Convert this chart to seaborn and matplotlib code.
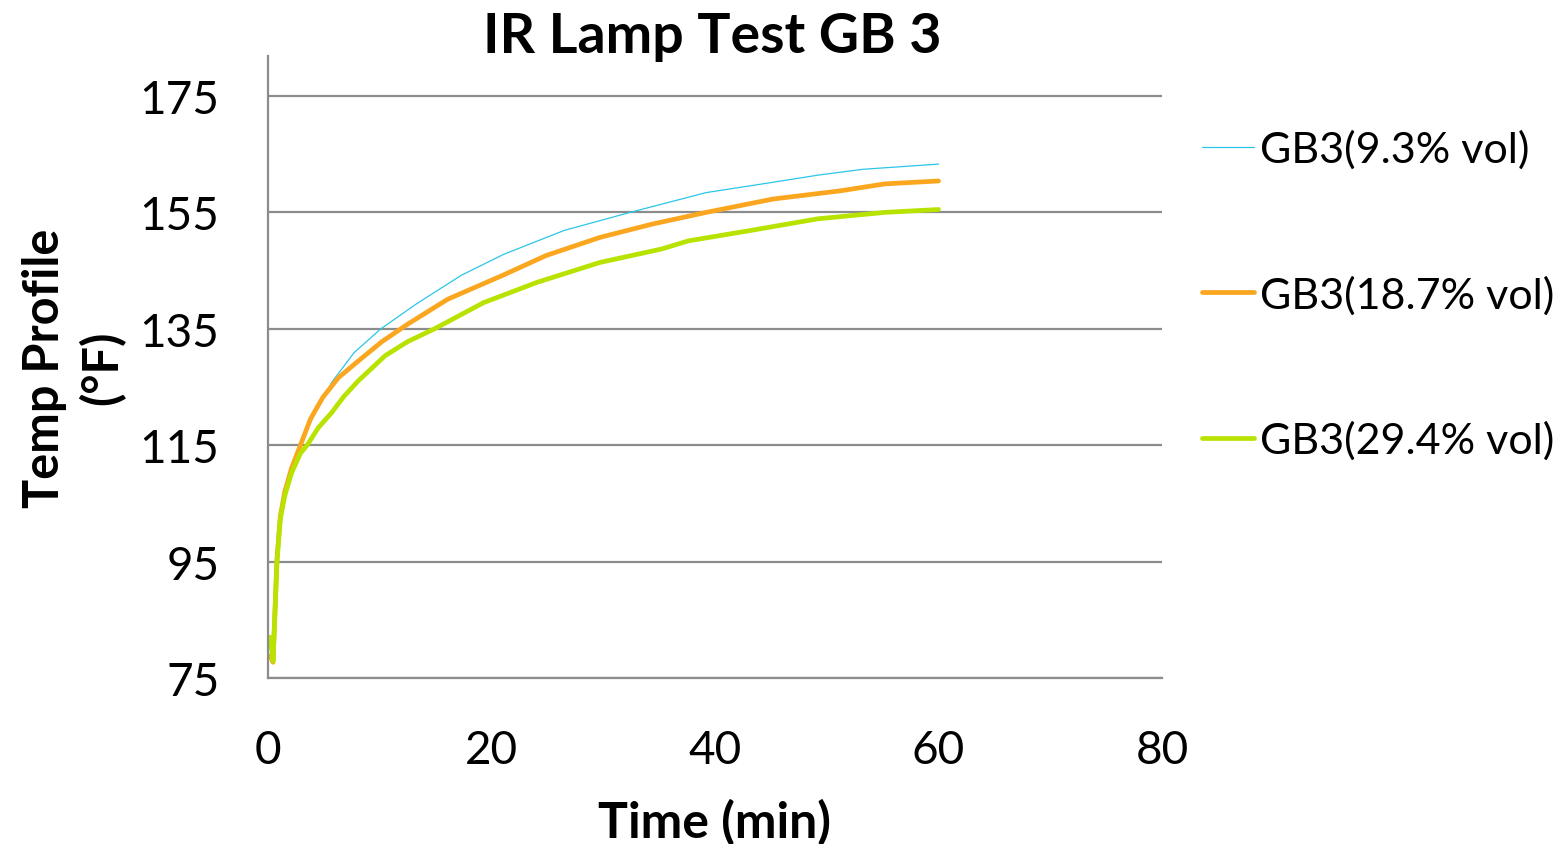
import numpy as np
import pandas as pd
import matplotlib
matplotlib.use("Agg")
import matplotlib.pyplot as plt
import seaborn as sns

# ---- data ----
time_a = [0.2, 0.45, 0.8, 1.1, 1.5, 2.1, 2.9, 4.1, 5.7, 7.7, 10.1, 13.3, 17.3, 21.1, 26.5, 32.4, 39.2, 44.6, 49.2, 53.2, 60.0]
temp_a = [80.0, 77.9, 95.5, 103.0, 107.2, 111.2, 115.2, 120.1, 125.8, 130.9, 135.0, 139.3, 144.2, 147.8, 151.9, 155.0, 158.4, 160.0, 161.4, 162.4, 163.3]

time_b = [0.2, 0.45, 0.8, 1.1, 1.5, 2.1, 2.9, 3.8, 4.9, 6.3, 8.1, 10.2, 12.5, 16.1, 20.9, 24.9, 29.7, 34.4, 39.2, 45.2, 51.2, 55.2, 60.0]
temp_b = [78.8, 77.7, 95.3, 102.8, 107.0, 111.0, 115.0, 119.5, 123.2, 126.6, 129.5, 132.8, 135.8, 140.1, 144.1, 147.6, 150.7, 153.0, 155.0, 157.3, 158.7, 159.9, 160.4]

time_c = [0.2, 0.45, 0.8, 1.1, 1.5, 2.1, 2.9, 3.5, 4.5, 5.7, 6.8, 8.1, 10.5, 12.5, 14.9, 19.3, 24.1, 29.7, 35.2, 37.6, 43.2, 49.2, 55.2, 60.0]
temp_c = [82.0, 77.9, 94.9, 102.3, 106.3, 110.2, 113.6, 115.0, 118.0, 120.6, 123.4, 126.1, 130.4, 132.8, 135.0, 139.5, 143.0, 146.4, 148.7, 150.1, 151.9, 153.9, 155.0, 155.5]

series_names = ["GB3(9.3% vol)", "GB3(18.7% vol)", "GB3(29.4% vol)"]
x_ticks = [0, 20, 40, 60, 80]
y_ticks = [75, 95, 115, 135, 155, 175]

df = pd.concat([
    pd.DataFrame({"Time": time_a, "Temp": temp_a, "Series": series_names[0]}),
    pd.DataFrame({"Time": time_b, "Temp": temp_b, "Series": series_names[1]}),
    pd.DataFrame({"Time": time_c, "Temp": temp_c, "Series": series_names[2]}),
], ignore_index=True)

sns.set_style("white")
plt.rcParams["font.family"] = ["Lato", "DejaVu Sans"]
plt.rcParams["text.color"] = "black"
plt.rcParams["axes.labelcolor"] = "black"
plt.rcParams["xtick.labelcolor"] = "black"
plt.rcParams["ytick.labelcolor"] = "black"

colors = {series_names[0]: "#2BC6E8", series_names[1]: "#FAA61E", series_names[2]: "#B8E300"}
widths = {series_names[0]: 0.9, series_names[1]: 3.4, series_names[2]: 3.4}

fig = plt.figure(figsize=(15.59, 8.45), dpi=100)
ax = fig.add_axes([268/1559, 1 - 679/845, (1162-268)/1559, (679-57)/845])

for name in series_names:
    sns.lineplot(data=df[df["Series"] == name], x="Time", y="Temp", ax=ax,
                 color=colors[name], linewidth=widths[name], label=name,
                 estimator=None, sort=False, solid_capstyle="round")

ax.set_xlim(0, 80)
ax.set_ylim(75, 175 + 40/5.82)
ax.set_xticks(x_ticks)
ax.set_yticks(y_ticks)
ax.grid(axis="y", color="#8C8C8C", linewidth=1.6)
ax.grid(axis="x", visible=False)
for s in ["top", "right"]:
    ax.spines[s].set_visible(False)
for s in ["left", "bottom"]:
    ax.spines[s].set_color("#8C8C8C")
    ax.spines[s].set_linewidth(1.6)
ax.tick_params(axis="y", direction="out", length=17, width=1.6, color="#8C8C8C",
               labelsize=33, pad=18, labelcolor="black")
ax.tick_params(axis="x", direction="out", length=11, width=1.6, color="#8C8C8C",
               labelsize=33, pad=26, labelcolor="black")
ax.set_axisbelow(True)

ax.set_xlabel("Time (min)", fontsize=36, fontweight="bold", labelpad=19, color="black")
ax.set_ylabel("Temp Profile\n(°F)", fontsize=35, fontweight="bold", labelpad=10,
              linespacing=1.3, color="black")
fig.text(712/1559, 1 - 37/845, "IR Lamp Test GB 3", fontsize=40, fontweight="bold",
         ha="center", va="center", color="black")

leg = ax.legend(loc="upper left", bbox_to_anchor=(1185/1559, 1 - 113/845),
                bbox_transform=fig.transFigure, frameon=False, fontsize=31,
                handlelength=1.2, handletextpad=0.15, labelspacing=2.47,
                borderaxespad=0)
for t in leg.get_texts():
    t.set_color("black")

fig.savefig("out.png", dpi=100)
